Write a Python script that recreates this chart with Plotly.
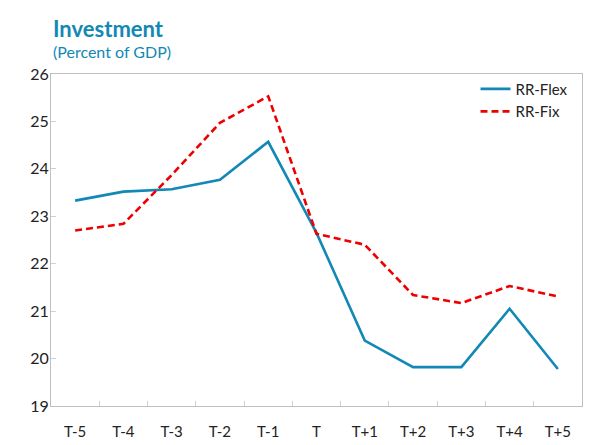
import plotly.graph_objects as go

categories = ["T-5", "T-4", "T-3", "T-2", "T-1", "T", "T+1", "T+2", "T+3", "T+4", "T+5"]
rr_flex = [23.33, 23.52, 23.57, 23.77, 24.57, 22.65, 20.38, 19.82, 19.82, 21.05, 19.78]
rr_fix = [22.70, 22.84, 23.87, 24.97, 25.53, 22.63, 22.40, 21.34, 21.17, 21.53, 21.31]
y_ticks = [19, 20, 21, 22, 23, 24, 25, 26]

BLUE = "#1288b5"
RED = "#ee0000"
FONT = "Lato"

fig = go.Figure()
fig.add_trace(go.Scatter(x=categories, y=rr_flex, name="RR-Flex", mode="lines",
                         line=dict(color=BLUE, width=2.6)))
fig.add_trace(go.Scatter(x=categories, y=rr_fix, name="RR-Fix", mode="lines",
                         line=dict(color=RED, width=2.6, dash="7px,4px")))

fig.update_layout(
    width=595, height=445,
    margin=dict(l=51, r=13, t=74, b=39, autoexpand=False),
    paper_bgcolor="white", plot_bgcolor="white",
    font=dict(family=FONT, color="#222222", size=15),
    showlegend=True,
    legend=dict(x=0.984, xanchor="right", y=1.004, yanchor="top",
                bgcolor="rgba(0,0,0,0)", font=dict(size=15, color="#222222"),
                itemwidth=30, tracegroupgap=0),
    annotations=[
        dict(text="<b>Investment</b>", xref="paper", yref="paper", x=0.0, y=1.0,
             xanchor="left", yanchor="bottom", yshift=30, showarrow=False,
             font=dict(size=22, color=BLUE, family=FONT)),
        dict(text="(Percent of GDP)", xref="paper", yref="paper", x=0.0, y=1.0,
             xanchor="left", yanchor="bottom", yshift=11, showarrow=False,
             font=dict(size=16, color=BLUE, family=FONT)),
    ],
)
fig.update_xaxes(
    type="category", showgrid=False, showline=True, linecolor="#bfbfbf", linewidth=1,
    mirror=True, ticks="inside", tickson="boundaries", ticklen=5, tickcolor="#d0d0d0",
    tickfont=dict(size=15), ticklabelstandoff=12, range=[-0.5, 10.5], automargin=False,
)
fig.update_yaxes(
    range=[19, 26], tickvals=y_ticks, showgrid=False, zeroline=False, showline=True,
    linecolor="#bfbfbf", linewidth=1, mirror=True, ticks="inside", ticklen=5,
    tickcolor="#d0d0d0", tickfont=dict(size=16), ticklabelstandoff=-2, automargin=False,
)

fig.write_html("out.html", config={"displayModeBar": False},
               post_script="document.body.style.margin='0';")
